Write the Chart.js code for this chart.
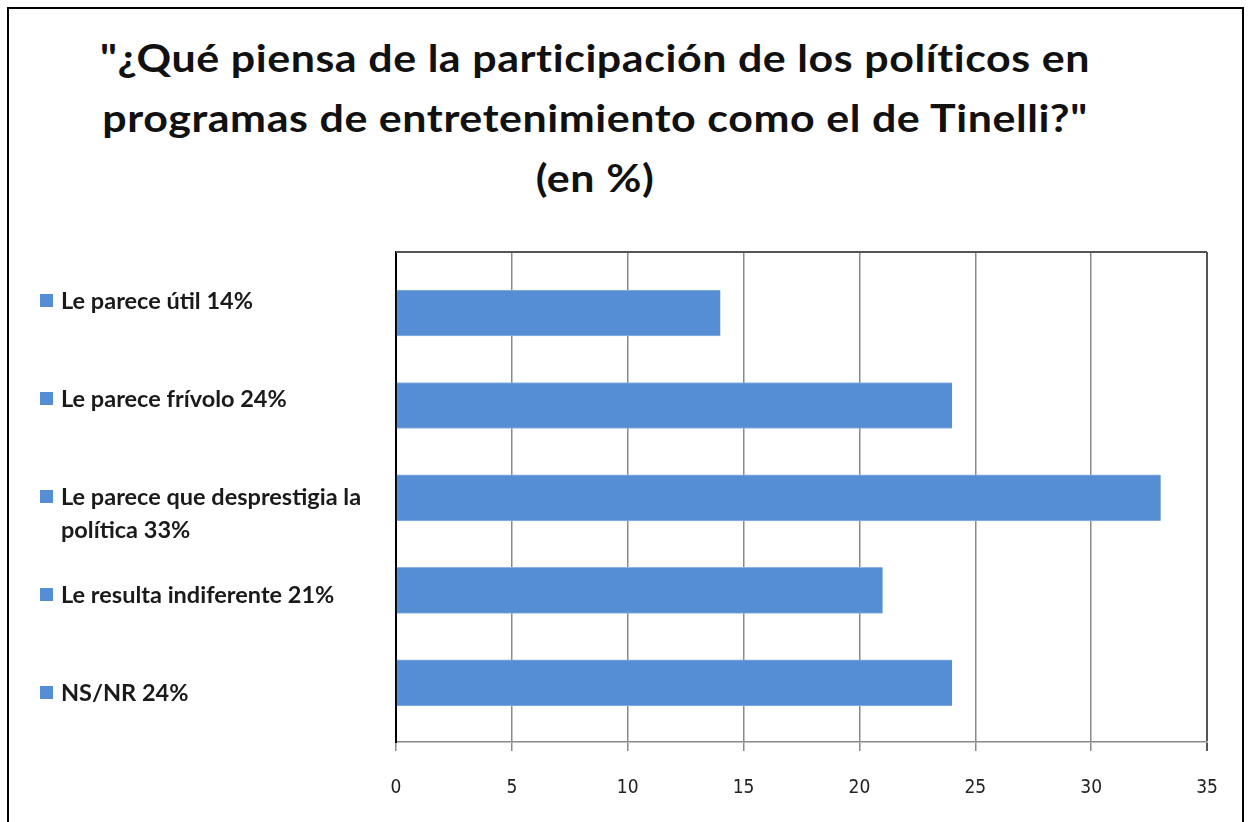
<!DOCTYPE html>
<html>
<head>
<meta charset="utf-8">
<script src="https://cdn.jsdelivr.net/npm/chart.js@4/dist/chart.umd.min.js"></script>
<style>
body{margin:0;background:#fff;overflow:hidden}
#wrap{position:relative;width:1250px;height:822px}
#frame{position:absolute;left:7px;top:7px;width:1237px;height:830px;border:2px solid #000;box-sizing:border-box}
#title{position:absolute;left:0;top:27px;width:1190px;text-align:center;font:bold 38px Lato,"Open Sans",sans-serif;letter-spacing:0.5px;line-height:60px;color:#111;transform:scaleX(1.13);transform-origin:595px 0}
#box{position:absolute;left:0;top:0;width:1250px;height:822px}
</style>
</head>
<body>
<div id="wrap">
<div id="frame"></div>
<div id="title">"¿Qué piensa de la participación de los políticos en<br>programas de entretenimiento como el de Tinelli?"<br>(en %)</div>
<div id="box"><canvas id="chart"></canvas></div>
</div>
<script>
// categories (one line each item), values in %
const categories = [
  ["Le parece útil 14%"],
  ["Le parece frívolo 24%"],
  ["Le parece que desprestigia la", "política 33%"],
  ["Le resulta indiferente 21%"],
  ["NS/NR 24%"]
]
const values = [14, 24, 33, 21, 24]
const xTicks = [0, 5, 10, 15, 20, 25, 30, 35]

const blue = "#558ed5"

// labels with small square markers, drawn at the category positions
const sideLabels = {
  id: "sideLabels",
  afterDraw(chart) {
    const ctx = chart.ctx
    const ys = chart.scales.y
    ctx.save()
    ctx.font = "bold 23.5px Lato, 'Open Sans', sans-serif"
    ctx.textBaseline = "middle"
    ctx.textAlign = "left"
    categories.forEach((lines, i) => {
      const y = ys.getPixelForTick(i)
      ctx.fillStyle = blue
      ctx.fillRect(40, y - 7, 13, 13)
      ctx.fillStyle = "#1a1a1a"
      lines.forEach((t, k) => ctx.fillText(t, 61, y + k * 33))
    })
    ctx.restore()
  }
}

// top edge of the plot area
const plotTop = {
  id: "plotTop",
  beforeDatasetsDraw(chart) {
    const {ctx, chartArea} = chart
    ctx.save()
    ctx.strokeStyle = "#555"
    ctx.lineWidth = 2
    ctx.beginPath()
    ctx.moveTo(chartArea.left, chartArea.top)
    ctx.lineTo(chartArea.right, chartArea.top)
    ctx.stroke()
    ctx.restore()
  }
}

new Chart(document.getElementById("chart"), {
  type: "bar",
  data: {
    labels: categories,
    datasets: [{
      data: values.map((v, i) => ({x: v, y: i})),
      yAxisID: "yb",
      backgroundColor: blue,
      borderColor: "#8db3e2",
      borderWidth: {top: 1, bottom: 1, left: 0, right: 0},
      borderSkipped: false,
      barThickness: 46
    }]
  },
  options: {
    indexAxis: "y",
    responsive: true,
    maintainAspectRatio: false,
    animation: false,
    layout: {padding: {top: 252, right: 43, bottom: 0, left: 0}},
    plugins: {legend: {display: false}, tooltip: {enabled: false}},
    scales: {
      x: {
        min: 0, max: 35,
        afterBuildTicks: s => { s.ticks = xTicks.map(v => ({value: v})) },
        afterFit: s => { s.height = 80 },
        grid: {
          color: c => c.tick && c.tick.value === 35 ? "#555" : "#8a8a8a",
          lineWidth: c => c.tick && c.tick.value === 35 ? 2 : 1.5,
          tickLength: 9
        },
        border: {color: "#8a8a8a", width: 1.5},
        ticks: {
          padding: 26,
          color: "#222",
          font: {family: "'Liberation Sans Narrow', 'DejaVu Sans Condensed', Lato, sans-serif", size: 19}
        }
      },
      y: {
        type: "category",
        position: "left",
        afterFit: s => { s.width = 396 },
        grid: {display: false},
        border: {color: "#000", width: 2},
        ticks: {display: false}
      },
      yb: {
        type: "linear",
        display: false,
        offset: false,
        reverse: true,
        min: -0.66,
        max: 4.64
      }
    }
  },
  plugins: [sideLabels, plotTop]
})
</script>
</body>
</html>
